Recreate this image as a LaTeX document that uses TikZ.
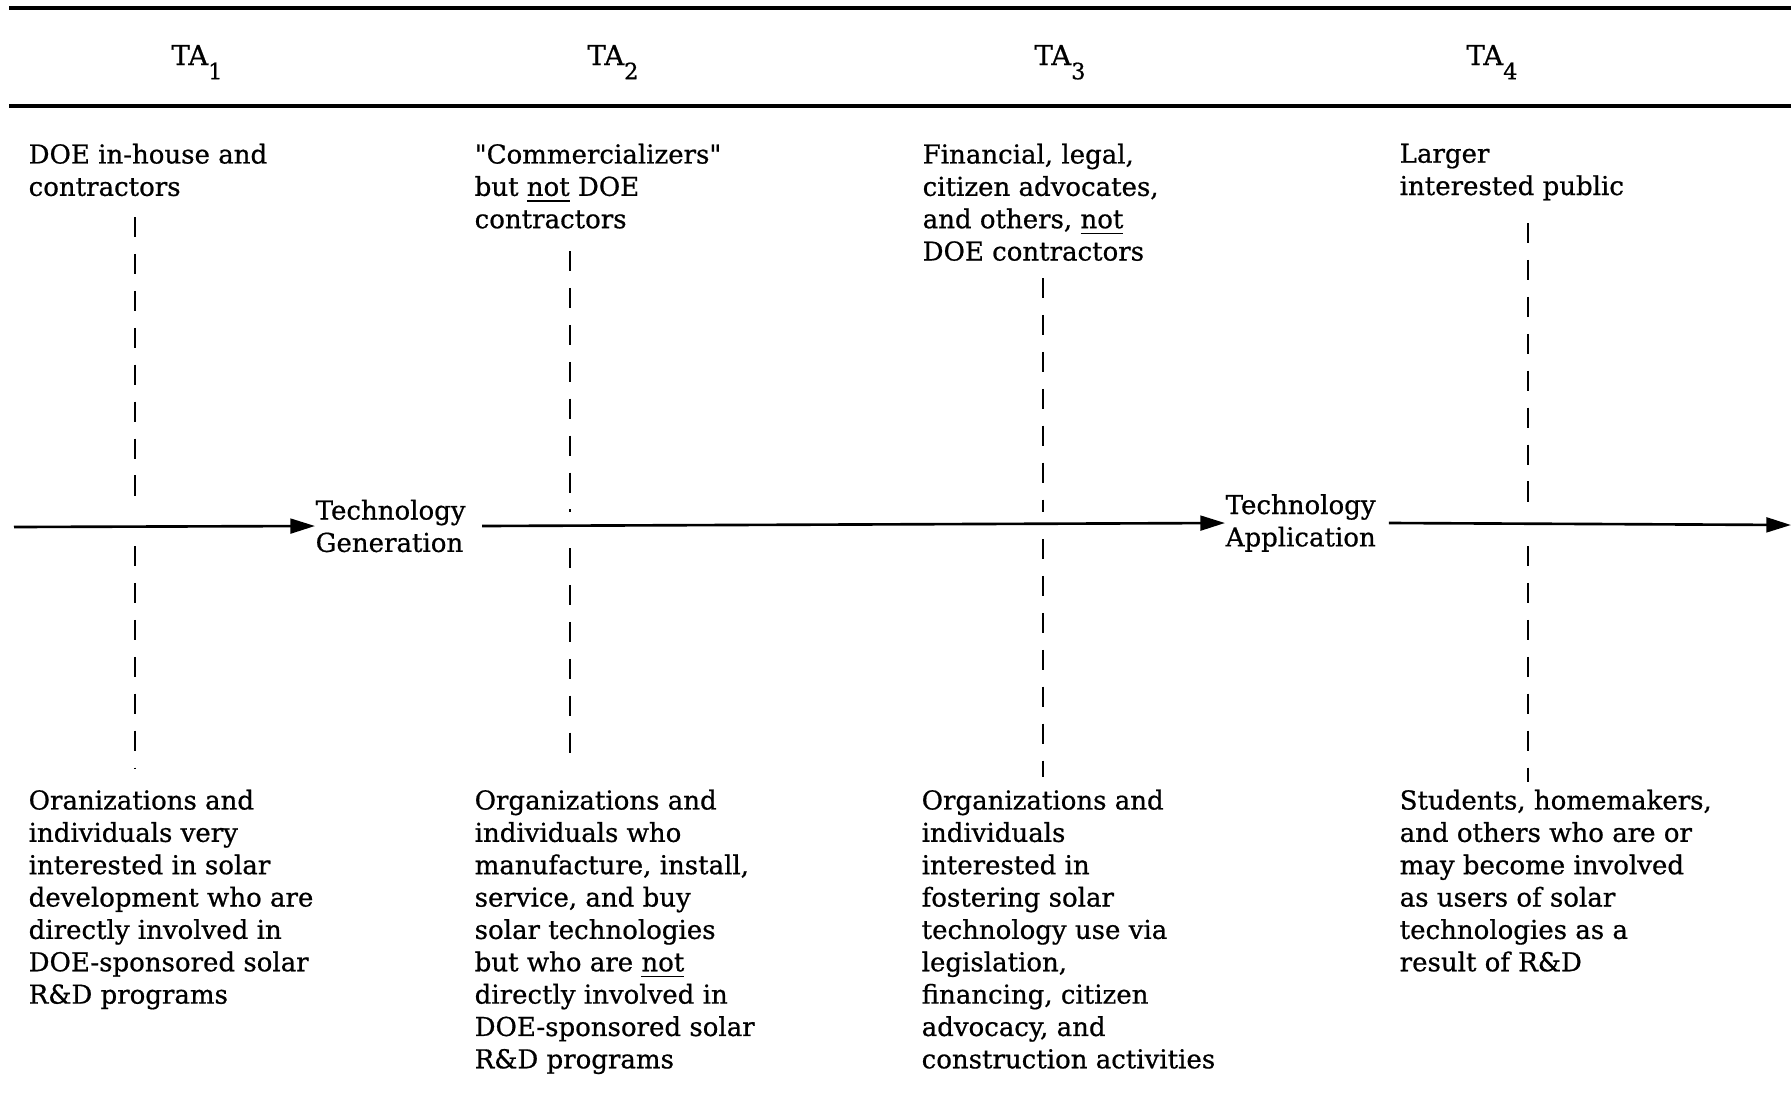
\documentclass[tikz,border=0pt]{standalone}
\usepackage{fontspec}
\setmainfont{DejaVu Serif}[Ligatures=TeXOff, FakeBold=0.7]
\usetikzlibrary{positioning, arrows.meta}

\newcommand{\talabel}[1]{TA\raisebox{-1.0ex}{\fontsize{6.4}{6.4}\selectfont #1}}

\tikzset{
  rule/.style={line width=0.9pt},
  flow/.style={line width=0.75pt, -{Triangle[length=7pt, width=4.2pt]}},
  guide/.style={line width=0.7pt, dash pattern=on 5.7pt off 4.8pt},
  talbl/.style={font=\fontsize{7.8}{9}\selectfont, anchor=base, inner sep=0pt},
  group/.style={font=\fontsize{7.4}{9.2}\selectfont, anchor=north west, align=left, inner sep=0pt},
  stage/.style={font=\fontsize{7.4}{9.2}\selectfont, anchor=west, align=left, inner sep=0pt},
}

\begin{document}
\begin{tikzpicture}[x=0.01cm, y=-0.01cm]
    \useasboundingbox (0,0) rectangle (1791,1103);

    % header band
    \coordinate (r1w) at (9,8);   \coordinate (r1e) at (1791,8);
    \coordinate (r2w) at (9,106); \coordinate (r2e) at (1791,106);
    \draw[rule] (r1w) -- (r1e);
    \draw[rule] (r2w) -- (r2e);

    \node[talbl] (ta1) at (197,65) {\talabel{1}};
    \node[talbl] (ta2) at (613,65) {\talabel{2}};
    \node[talbl] (ta3) at (1060,65) {\talabel{3}};
    \node[talbl] (ta4) at (1492,65) {\talabel{4}};

    % who is in each audience
    \node[group] (top1) at (28,143) {DOE in-house and\\contractors};
    \node[group] (top2) at (474,143) {"Commercializers"\\but \underline{not} DOE\\contractors};
    \node[group] (top3) at (922,143) {Financial, legal,\\citizen advocates,\\and others, \underline{not}\\DOE contractors};
    \node[group] (top4) at (1399,143) {Larger\\interested public};

    \node[group] (bot1) at (28,789) {Oranizations and\\individuals very\\interested in solar\\development who are\\directly involved in\\DOE-sponsored solar\\R\&D programs};
    \node[group] (bot2) at (474,789) {Organizations and\\individuals who\\manufacture, install,\\service, and buy\\solar technologies\\but who are \underline{not}\\directly involved in\\DOE-sponsored solar\\R\&D programs};
    \node[group] (bot3) at (921,789) {Organizations and\\individuals\\interested in\\fostering solar\\technology use via\\legislation,\\financing, citizen\\advocacy, and\\construction activities};
    \node[group] (bot4) at (1399,789) {Students, homemakers,\\and others who are or\\may become involved\\as users of solar\\technologies as a\\result of R\&D};

    % flow of technology
    \coordinate (start) at (14,527);
    \coordinate (finish) at (1791,525);
    \node[stage] (gen) at (315,526) {Technology\\Generation};
    \node[stage] (app) at (1225,523) {Technology\\Application};
    \draw[flow] (start) -- (gen.west);
    \draw[flow] ([xshift=4.5pt]gen.east) -- (app.west);
    \draw[flow] ([xshift=3.5pt]app.east) -- (finish);

    % dashed guides
    \coordinate (g1a) at (135,217);  \coordinate (g1b) at (135,512);
    \coordinate (g1c) at (135,546);  \coordinate (g1d) at (135,768);
    \coordinate (g2a) at (570,251);  \coordinate (g2b) at (570,512);
    \coordinate (g2c) at (570,548);  \coordinate (g2d) at (570,765);
    \coordinate (g3a) at (1043,278); \coordinate (g3b) at (1043,512);
    \coordinate (g3c) at (1043,539); \coordinate (g3d) at (1043,777);
    \coordinate (g4a) at (1528,223); \coordinate (g4b) at (1528,512);
    \coordinate (g4c) at (1528,546); \coordinate (g4d) at (1528,782);
    \draw[guide] (g1a) -- (g1b);  \draw[guide] (g1c) -- (g1d);
    \draw[guide] (g2a) -- (g2b);  \draw[guide] (g2c) -- (g2d);
    \draw[guide] (g3a) -- (g3b);  \draw[guide] (g3c) -- (g3d);
    \draw[guide] (g4a) -- (g4b);  \draw[guide] (g4c) -- (g4d);
\end{tikzpicture}
\end{document}
